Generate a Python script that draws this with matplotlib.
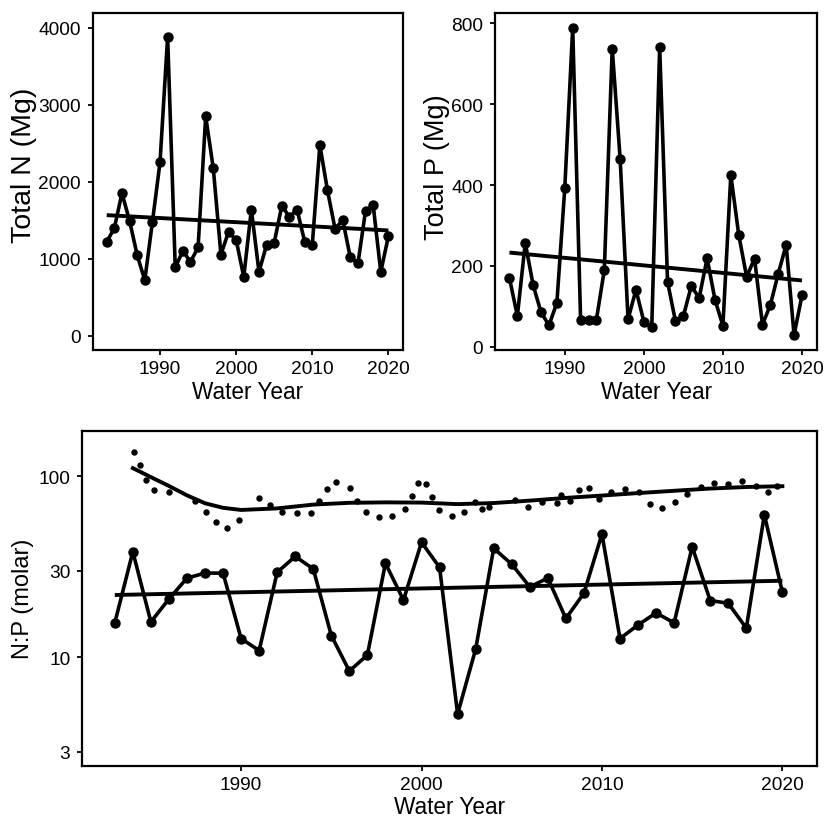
import numpy as np
import matplotlib
matplotlib.use("Agg")
import matplotlib.pyplot as plt
from matplotlib.ticker import FixedLocator, NullLocator

plt.rcParams['font.family'] = ['Liberation Sans', 'DejaVu Sans']

years = list(range(1983, 2021))

total_n = [1222, 1400, 1855, 1495, 1049, 724, 1480, 2254, 3887, 889,
           1105, 962, 1149, 2852, 2175, 1057, 1352, 1248, 767, 1642,
           832, 1183, 1209, 1694, 1543, 1642, 1226, 1183, 2479, 1890,
           1387, 1508, 1019, 941, 1625, 1699, 832, 1295]

total_p = [170, 76, 257, 152, 85, 53, 109, 393, 789, 65,
           65, 67, 190, 738, 465, 68, 141, 62, 49, 742,
           160, 63, 76, 150, 121, 219, 116, 52, 425, 277,
           173, 218, 55, 103, 181, 252, 29, 127]

np_molar = [15.5, 38.3, 15.7, 21.0, 27.4, 29.2, 29.2, 12.7, 10.9, 29.5,
            36.1, 30.8, 13.2, 8.4, 10.3, 33.1, 20.7, 43.2, 31.4, 4.87,
            11.1, 40.0, 32.7, 24.5, 27.4, 16.4, 22.6, 48.0, 12.7, 15.1,
            17.6, 15.5, 40.8, 20.6, 19.9, 14.5, 61.4, 22.9]

# linear trend end points
trend_years = [1983, 2020]
trend_n = [1569, 1370]
trend_p = [233, 164]
trend_np = [22.1, 26.5]

# upper dotted series (N:P, second measure)
dot_years = [1984.06, 1984.41, 1984.75, 1985.17, 1985.98, 1987.47, 1988.06, 1988.62,
             1989.20, 1989.87, 1990.97, 1991.60, 1992.27, 1993.08, 1993.87, 1994.33,
             1994.76, 1995.25, 1996.03, 1996.45, 1996.91, 1997.65, 1998.38, 1999.09,
             1999.46, 1999.82, 2000.23, 2000.60, 2000.97, 2001.70, 2002.35, 2002.96,
             2003.36, 2003.73, 2005.17, 2005.91, 2006.68, 2007.51, 2007.75, 2008.25,
             2008.71, 2009.26, 2009.86, 2010.52, 2011.26, 2012.03, 2012.68, 2013.32,
             2014.06, 2014.70, 2015.50, 2016.19, 2017.01, 2017.77, 2018.52, 2019.22,
             2019.68]
dot_np = [136.7, 115.9, 95.8, 84.3, 81.6, 72.8, 63.7, 55.7,
          51.6, 57.4, 75.5, 69.3, 63.2, 62.6, 62.6, 73.3,
          85.1, 93.4, 86.5, 73.3, 63.7, 59.6, 60.1, 65.8,
          77.8, 92.2, 90.6, 76.9, 64.9, 60.1, 63.2, 72.4,
          65.9, 67.4, 74.0, 67.9, 72.4, 71.2, 78.8, 73.3,
          84.3, 85.9, 75.0, 82.2, 85.1, 81.6, 70.3, 67.1,
          72.4, 79.8, 87.7, 92.2, 90.6, 94.6, 88.7, 82.2,
          88.7]

# smooth curve through the upper series
smooth_years = [1984, 1985, 1986, 1987, 1988, 1989, 1990, 1992, 1994, 1996, 1998,
                2000, 2002, 2004, 2006, 2008, 2010, 2012, 2014, 2016, 2018, 2020]
smooth_np = [111, 99, 88.5, 78.5, 71, 67, 65.2, 66.5, 69.8, 71.4, 71.8,
             71.6, 70.2, 71.2, 73.4, 76, 78.3, 80.8, 83.2, 85.6, 87.3, 88.2]

fig = plt.figure(figsize=(8.24, 8.2), dpi=100)
ax_n = fig.add_axes([0.1129, 0.572, 0.376, 0.411])
ax_p = fig.add_axes([0.601, 0.572, 0.3905, 0.411])
ax_r = fig.add_axes([0.0999, 0.065, 0.8912, 0.4085])

line_kw = dict(color='black', lw=2.6, marker='o', ms=6.5, mfc='black', mec='black')
trend_kw = dict(color='black', lw=2.8, solid_capstyle='butt')

for ax in (ax_n, ax_p, ax_r):
    for s in ax.spines.values():
        s.set_linewidth(1.6)
    ax.tick_params(axis='both', labelsize=13.8, length=3.6, width=1.3, direction='out')
    ax.tick_params(axis='x', pad=3.5)
    ax.tick_params(axis='y', pad=5)
    ax.set_xlim(1981.2, 2021.9)
    ax.set_xticks([1990, 2000, 2010, 2020])
    ax.set_xlabel("Water Year", fontsize=16.3, labelpad=2)

ax_n.plot(years, total_n, **line_kw)
ax_n.plot(trend_years, trend_n, **trend_kw)
ax_n.set_ylim(-182, 4195)
ax_n.set_yticks([0, 1000, 2000, 3000, 4000])
ax_n.set_ylabel("Total N (Mg)", fontsize=20.5, labelpad=1)
ax_n.yaxis.label.set_y(0.552)

ax_p.plot(years, total_p, **line_kw)
ax_p.plot(trend_years, trend_p, **trend_kw)
ax_p.set_ylim(-8, 826)
ax_p.set_yticks([0, 200, 400, 600, 800])
ax_p.set_ylabel("Total P (Mg)", fontsize=19.5, labelpad=1)
ax_p.yaxis.label.set_y(0.546)

ax_r.set_yscale('log')
ax_r.plot(years, np_molar, **line_kw)
ax_r.plot(trend_years, trend_np, **trend_kw)
ax_r.plot(dot_years, dot_np, ls='none', marker='o', ms=3.6, color='black')
ax_r.plot(smooth_years, smooth_np, color='black', lw=2.8)
ax_r.set_ylim(2.52, 178.6)
ax_r.yaxis.set_major_locator(FixedLocator([3, 10, 30, 100]))
ax_r.yaxis.set_minor_locator(NullLocator())
ax_r.set_yticklabels(['3', '10', '30', '100'])
ax_r.set_ylabel("N:P (molar)", fontsize=17, labelpad=3)

fig.savefig("out.png", dpi=100)
